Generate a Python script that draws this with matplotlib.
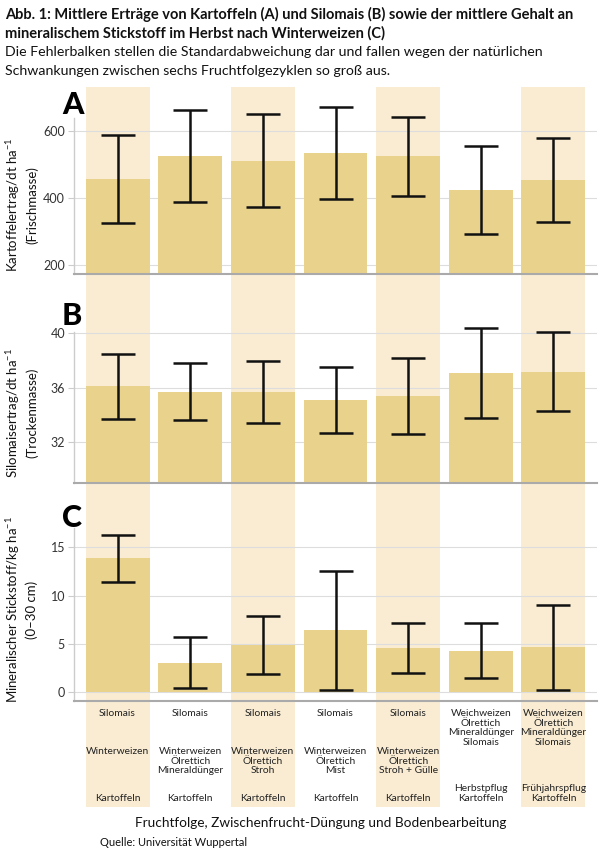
import matplotlib
matplotlib.use('Agg')
import matplotlib.pyplot as plt
import numpy as np

plt.rcParams['font.family'] = ['Lato', 'DejaVu Sans']
plt.rcParams['mathtext.fontset'] = 'custom'
plt.rcParams['mathtext.rm'] = 'Lato'
plt.rcParams['mathtext.default'] = 'rm'

# Daten
kartoffel_mean = [457, 526, 511, 533, 524, 423, 454]
kartoffel_sd = [132, 137, 138, 137, 117, 132, 126]
silomais_mean = [36.1, 35.7, 35.7, 35.1, 35.4, 37.1, 37.2]
silomais_sd = [2.4, 2.1, 2.3, 2.4, 2.8, 3.3, 2.9]
nmin_mean = [13.85, 3.05, 4.9, 6.4, 4.55, 4.3, 4.65]
nmin_sd = [2.4, 2.65, 3.0, 6.2, 2.6, 2.85, 4.4]

label_top = ['Silomais', 'Silomais', 'Silomais', 'Silomais', 'Silomais',
             'Weichweizen\nÖlrettich\nMineraldünger\nSilomais',
             'Weichweizen\nÖlrettich\nMineraldünger\nSilomais']
label_mid = ['Winterweizen', 'Winterweizen\nÖlrettich\nMineraldünger',
             'Winterweizen\nÖlrettich\nStroh', 'Winterweizen\nÖlrettich\nMist',
             'Winterweizen\nÖlrettich\nStroh + Gülle', '', '']
label_bot = ['Kartoffeln', 'Kartoffeln', 'Kartoffeln', 'Kartoffeln', 'Kartoffeln',
             'Herbstpflug\nKartoffeln', 'Frühjahrspflug\nKartoffeln']

bar_col = '#E9D28B'
shade_col = '#F9ECD3'
x = np.arange(len(kartoffel_mean))
W, H = 600, 856

fig = plt.figure(figsize=(6, 8.56), dpi=100)

def px_ax(x0, y0, x1, y1):
    return [x0 / W, 1 - y1 / H, (x1 - x0) / W, (y1 - y0) / H]

# Hintergrund-Streifen
bg = fig.add_axes(px_ax(74, 87, 597, 807))
bg.set_xlim(-0.6, 6.6)
bg.set_ylim(0, 1)
bg.axis('off')
even = x[::2]
bg.bar(even, 1, width=0.88, bottom=0, color=shade_col, zorder=0)

def frac(y):
    return (807 - y) / 720

lab_kw = dict(ha='center', fontsize=7.4, linespacing=1.1, color='#222222')
for i in x:
    bg.text(i, frac(709), label_top[i], va='top', **lab_kw)
    if label_mid[i]:
        bg.text(i, frac(747), label_mid[i], va='top', **lab_kw)
    bg.text(i, frac(803), label_bot[i], va='bottom', **lab_kw)

panels = [
    ('A', kartoffel_mean, kartoffel_sd, (87, 274), (173, 731), [200, 400, 600], 639,
     'Kartoffelertrag/dt ha$^{-1}$', '(Frischmasse)', 205),
    ('B', silomais_mean, silomais_sd, (290, 483), (29.0, 43.2), [32, 36, 40], 40.1,
     'Silomaisertrag/dt ha$^{-1}$', '(Trockenmasse)', 413),
    ('C', nmin_mean, nmin_sd, (500, 701), (-0.9, 19.9), [0, 5, 10, 15], 17,
     'Mineralischer Stickstoff/kg ha$^{-1}$', '(0–30 cm)', 610),
]

for letter, mean, sd, (ytop, ybot), ylim, ticks, spine_top, lab1, lab2, lab_y in panels:
    ax = fig.add_axes(px_ax(74, ytop, 597, ybot))
    ax.set_facecolor('none')
    ax.bar(x, mean, width=0.88, bottom=0, color=bar_col, zorder=2)
    ax.errorbar(x, mean, yerr=sd, fmt='none', ecolor='#111111', elinewidth=1.8,
                capsize=12.5, capthick=1.8, zorder=3)
    ax.set_xlim(-0.6, 6.6)
    ax.set_ylim(*ylim)
    ax.set_yticks(ticks)
    ax.set_xticks([])
    ax.grid(True, axis='y', color='#dddddd', linewidth=0.8, zorder=1)
    ax.set_axisbelow(True)
    ax.tick_params(axis='y', length=4.5, width=0.8, color='#cccccc', labelsize=9,
                   labelcolor='#333333', pad=2)
    for s in ['top', 'right']:
        ax.spines[s].set_visible(False)
    ax.spines['left'].set_color('#cccccc')
    ax.spines['left'].set_linewidth(1.0)
    ax.spines['left'].set_bounds(ylim[0], spine_top)
    ax.spines['bottom'].set_color('#aaaaaa')
    ax.spines['bottom'].set_linewidth(1.5)
    fig.text(13 / W, 1 - lab_y / H, lab1, rotation=90, ha='center', va='center',
             fontsize=9.5, color='#111111')
    fig.text(32 / W, 1 - lab_y / H, lab2, rotation=90, ha='center', va='center',
             fontsize=9.5, color='#111111')

fig.text(62 / W, 1 - 114 / H, 'A', fontsize=22, fontweight='black', va='baseline')
fig.text(62 / W, 1 - 325 / H, 'B', fontsize=22, fontweight='black', va='baseline')
fig.text(62 / W, 1 - 527 / H, 'C', fontsize=22, fontweight='black', va='baseline')

fig.text(5 / W, 1 - 14 / H,
         'Abb. 1: Mittlere Erträge von Kartoffeln (A) und Silomais (B) sowie der mittlere Gehalt an',
         fontsize=10.5, fontweight='bold', va='center', color='#111111')
fig.text(5 / W, 1 - 33 / H, 'mineralischem Stickstoff im Herbst nach Winterweizen (C)',
         fontsize=10.5, fontweight='bold', va='center', color='#111111')
fig.text(5 / W, 1 - 52 / H,
         'Die Fehlerbalken stellen die Standardabweichung dar und fallen wegen der natürlichen',
         fontsize=10.2, va='center', color='#111111')
fig.text(5 / W, 1 - 71 / H, 'Schwankungen zwischen sechs Fruchtfolgezyklen so groß aus.',
         fontsize=10.2, va='center', color='#111111')

fig.text(321 / W, 1 - 823 / H, 'Fruchtfolge, Zwischenfrucht-Düngung und Bodenbearbeitung',
         fontsize=9.8, ha='center', va='center', color='#111111')
fig.text(100 / W, 1 - 843 / H, 'Quelle: Universität Wuppertal', fontsize=8,
         va='center', color='#111111')

plt.savefig('out.png', dpi=100)
